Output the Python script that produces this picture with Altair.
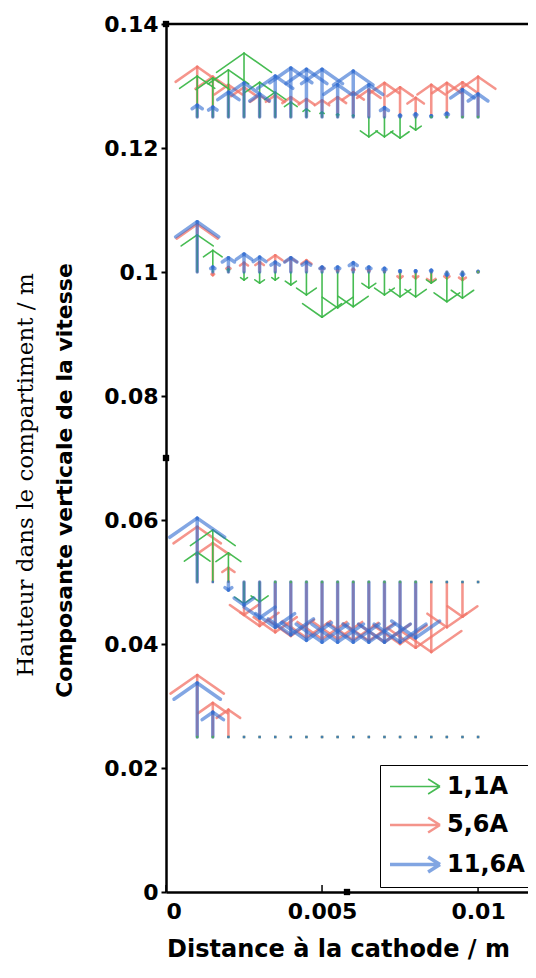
import altair as alt
import pandas as pd

# ---------------- data ----------------
series = ["1,1A", "5,6A", "11,6A"]
colors = ["#3db84a", "#f2766b", "#2f6bd0"]

x_pos = [0.001, 0.0015, 0.002, 0.0025, 0.003, 0.0035, 0.004, 0.0045, 0.005,
         0.0055, 0.006, 0.0065, 0.007, 0.0075, 0.008, 0.0085, 0.009, 0.0095, 0.01]
row_heights = [0.125, 0.1, 0.05, 0.025]

# vertical velocity component, drawn as arrow length (mm of the height axis)
green_r1 = [6.6, 6.3, 7.6, 10.3, 5.6, 4.0, 2.4, 1.3, 0.8, 0.5, 0.3, -3.2, -3.2, -3.4, -2.1, 0, 0, 0, 0]
green_r2 = [6.0, 3.5, 0.5, -1.3, -1.8, -1.3, -2.1, -3.7, -7.3, -5.8, -5.6, -2.6, -3.7, -4.0, -4.0, -1.8, -4.8, -4.2, 0]
green_r3 = [4.8, 8.4, 4.7, -3.5, -3.2, 0, 0, 0, 0, 0, 0, 0, 0, 0, 0, 0, 0, 0, 0]
green_r4 = [0, 0, 0, 0, 0, 0, 0, 0, 0, 0, 0, 0, 0, 0, 0, 0, 0, 0, 0]

red_r1 = [8.1, 6.5, 5.2, 4.8, 3.5, 3.5, 3.2, 2.9, 2.7, 3.2, 4.0, 4.4, 5.5, 4.8, 3.1, 5.2, 5.5, 5.6, 6.5]
red_r2 = [7.7, -0.5, 0.8, 1.5, 1.6, 2.7, 2.3, 1.9, 0.8, 0.3, 0.5, 0.3, 0.1, -1.0, -1.0, -1.6, -1.0, -1.3, 0]
red_r3 = [8.9, 6.3, 2.3, -5.3, -7.1, -8.1, -8.7, -9.0, -9.2, -9.2, -9.4, -9.5, -9.7, -10.0, -10.6, -11.3, -7.3, -5.6, 0]
red_r4 = [10.0, 5.5, 4.4, 0, 0, 0, 0, 0, 0, 0, 0, 0, 0, 0, 0, 0, 0, 0, 0]

blue_r1 = [1.9, 1.6, 4.0, 5.5, 3.7, 6.6, 7.9, 7.7, 7.7, 5.2, 7.4, 5.2, 1.5, 0.3, 0.5, 0.2, 0.6, 4.4, 3.7]
blue_r2 = [8.1, 0.8, 2.3, 2.9, 2.4, 1.6, 2.3, 1.6, 0.8, 0.8, 1.5, 0.8, 0.6, 0.2, 0.2, 0.3, -0.5, -0.5, 0.1]
blue_r3 = [10.3, 0, -1.3, -3.7, -5.8, -7.3, -8.5, -9.4, -9.7, -9.7, -9.7, -9.7, -9.7, -9.7, -9.0, 0, 0, 0, 0]
blue_r4 = [8.7, 4.0, 0, 0, 0, 0, 0, 0, 0, 0, 0, 0, 0, 0, 0, 0, 0, 0, 0]

x_ticks = [0, 0.005, 0.01]
y_ticks = [0, 0.02, 0.04, 0.06, 0.08, 0.1, 0.12, 0.14]

# small black square markers visible on the axes of the original figure
marker_x = [0, 0, 0.0058]
marker_y = [0.14, 0.07, 0]

values = {
    "1,1A": [green_r1, green_r2, green_r3, green_r4],
    "5,6A": [red_r1, red_r2, red_r3, red_r4],
    "11,6A": [blue_r1, blue_r2, blue_r3, blue_r4],
}

# quiver geometry (arrow head proportional to the arrow length)
HEAD_DROP = 0.3
HEAD_HALF = 8.55e-5

segs, dots = [], []
for s in ["5,6A", "1,1A", "11,6A"]:
    for y0, vs in zip(row_heights, values[s]):
        for x0, v in zip(x_pos, vs):
            if v == 0:
                dots.append(dict(series=s, x=x0, y=y0))
                continue
            dy = v / 1000.0
            tip = y0 + dy
            hw = HEAD_HALF * abs(v)
            yb = tip - HEAD_DROP * dy
            segs.append(dict(series=s, x=x0, y=y0, x2=x0, y2=tip))
            segs.append(dict(series=s, x=x0 - hw, y=yb, x2=x0, y2=tip))
            segs.append(dict(series=s, x=x0 + hw, y=yb, x2=x0, y2=tip))
seg_df = pd.DataFrame(segs)
dot_df = pd.DataFrame(dots)

W, H = 362, 868
xs = alt.Scale(domain=[0, 0.0116], nice=False, zero=False)
ys = alt.Scale(domain=[0, 0.14], nice=False)

x_axis = alt.Axis(
    values=x_ticks, format="~g", tickSize=0, labelPadding=9,
    labelFont="DejaVu Sans", labelFontWeight="bold", labelFontSize=22, labelColor="black",
    domainColor="black", domainWidth=2.5, grid=False,
    title="Distance à la cathode / m", titleFont="DejaVu Sans", titleFontWeight="bold",
    titleFontSize=24, titleColor="black", titleX=172, titleY=64,
    titleBaseline="alphabetic", titleAlign="center")
y_axis = alt.Axis(
    values=y_ticks, format="~g", tickSize=5, tickWidth=2, tickColor="black", labelPadding=3,
    labelFont="DejaVu Sans", labelFontWeight="bold", labelFontSize=22, labelColor="black",
    domainColor="black", domainWidth=2.5, grid=False,
    title="Composante verticale de la vitesse", titleFont="DejaVu Sans",
    titleFontWeight="bold", titleFontSize=22, titleColor="black",
    titleX=-102, titleY=456, titleAngle=270, titleAlign="center", titleBaseline="middle")

legend = alt.Legend(
    title=None, orient="none", legendX=214, legendY=741,
    symbolType="M-1,0L3,0M2.05,-0.6L3,0M2.05,0.6L3,0", symbolSize=625,
    symbolStrokeWidth=2, symbolFillColor="transparent",
    labelFont="DejaVu Sans", labelFontWeight="bold", labelFontSize=24,
    labelColor="black", labelOffset=30, strokeColor="black", fillColor="white",
    padding=8, rowPadding=12,
)

color_scale = alt.Scale(domain=series, range=colors)

arrows = alt.Chart(seg_df).mark_rule(strokeCap="round").encode(
    x=alt.X("x:Q", scale=xs, axis=x_axis),
    y=alt.Y("y:Q", scale=ys, axis=y_axis),
    x2="x2:Q",
    y2="y2:Q",
    color=alt.Color("series:N", scale=color_scale, sort=series, legend=legend),
    strokeWidth=alt.StrokeWidth("series:N", scale=alt.Scale(domain=series, range=[1.6, 3.5, 2.0]), legend=None),
    opacity=alt.Opacity("series:N", scale=alt.Scale(domain=series, range=[0.95, 0.6, 0.95]), legend=None),
)

zero_dots = alt.Chart(dot_df).mark_point(filled=True, size=6, shape="square").encode(
    x=alt.X("x:Q", scale=xs, axis=x_axis),
    y=alt.Y("y:Q", scale=ys, axis=y_axis),
    color=alt.Color("series:N", scale=color_scale, sort=series, legend=legend),
)

tick_df = pd.DataFrame({"x": x_ticks})
x_tick_marks = alt.Chart(tick_df).mark_rule(color="black", strokeWidth=1.5).encode(
    x=alt.X("x:Q", scale=xs, axis=x_axis),
    y=alt.value(H),
    y2=alt.value(H - 7),
)

marker_df = pd.DataFrame({"x": marker_x, "y": marker_y})
markers = alt.Chart(marker_df).mark_square(color="black", size=40, opacity=1).encode(
    x=alt.X("x:Q", scale=xs, axis=x_axis),
    y=alt.Y("y:Q", scale=ys, axis=y_axis),
)

top_line = alt.Chart(alt.Data(values=[{"a": 1}])).mark_rule(color="black", strokeWidth=2.5).encode(
    x=alt.value(0), x2=alt.value(W), y=alt.value(0)
)

ytitle1 = alt.Chart(alt.Data(values=[{"t": "Hauteur dans le compartiment / m"}])).mark_text(
    angle=270, font="DejaVu Serif", fontSize=23, color="black", align="center", baseline="middle"
).encode(text="t:N", x=alt.value(-140), y=alt.value(451))

chart = alt.layer(arrows, zero_dots, x_tick_marks, markers, top_line, ytitle1).properties(
    width=W, height=H,
    padding={"left": 158, "top": 16, "right": 0, "bottom": 73},
    autosize=alt.AutoSizeParams(type="none"),
    background="white",
).configure_view(stroke=None)

chart.save("out.html", embed_options={"renderer": "svg", "actions": False})
